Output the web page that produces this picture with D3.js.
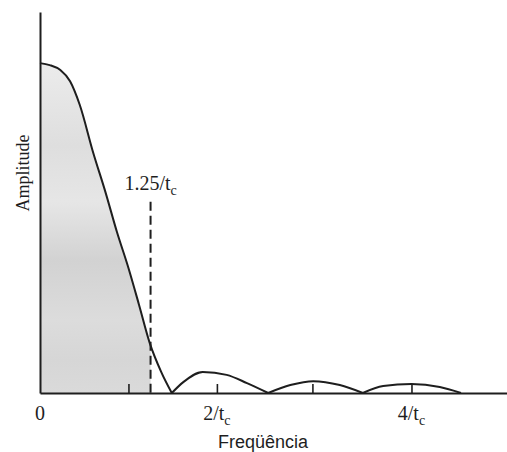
<!DOCTYPE html>
<html>
<head>
<meta charset="utf-8">
<script src="https://cdn.jsdelivr.net/npm/d3@7/dist/d3.min.js"></script>
<style>
	body { margin: 0; background: #fff; }
	.axis path, .axis line { stroke: #1e1e1e; }
	.curve { fill: none; stroke: #1e1e1e; stroke-width: 2; }
	.serif { font-family: "Liberation Serif", "DejaVu Serif", serif; fill: #1e1e1e; }
	.sans { font-family: "Liberation Sans", Arial, sans-serif; fill: #1e1e1e; }
</style>
</head>
<body>
<svg class="chart"></svg>
<script>
// Amplitude spectrum (frequency in units of 1/tc, amplitude relative to peak)
var freq = [0, 0.11, 0.23, 0.34, 0.45, 0.60, 0.74, 0.87, 1.00, 1.12, 1.24, 1.37, 1.49,
	1.62, 1.84, 2.11, 2.34, 2.58,
	2.83, 3.09, 3.39, 3.65,
	3.88, 4.20, 4.52, 4.76];
var amp = [1.0, 0.994, 0.979, 0.945, 0.873, 0.730, 0.609, 0.488, 0.379, 0.267, 0.152, 0.064, 0,
	0.033, 0.064, 0.055, 0.030, 0,
	0.024, 0.036, 0.024, 0,
	0.021, 0.027, 0.018, 0];

// Tick marks along the frequency axis and their labels
var tickFreq = [1, 2, 3.08, 4.2];
var labelFreq = [0, 2, 4.2];
var labelText = ["0", "2/t", "4/t"];
var labelSub = ["", "c", "c"];

// Cut-off marker
var cutoff = 1.25;
var cutoffTop = 0.58;
var cutoffText = "1.25/t";
var cutoffSub = "c";

var xTitle = "Freqüência";
var yTitle = "Amplitude";

function drawChart(areaID) {

	var width = 507,
		height = 452;

	var x = d3.scaleLinear()
		.domain([0, 5.28])
		.range([40, 507]);

	var y = d3.scaleLinear()
		.domain([0, 1.155])
		.range([393, 12]);

	var data = freq.map(function(f, i) { return {f: f, a: amp[i]}; });

	// Split into lobes at the zeros, so the cusps stay sharp
	var lobes = [];
	var current = [];
	data.forEach(function(d, i) {
		current.push(d);
		if (d.a === 0 && i > 0) {
			lobes.push(current);
			current = [d];
		}
	});

	var line = d3.line()
		.x(function(d) { return x(d.f); })
		.y(function(d) { return y(d.a); })
		.curve(d3.curveMonotoneX);

	var area = d3.area()
		.x(function(d) { return x(d.f); })
		.y0(y(0))
		.y1(function(d) { return y(d.a); })
		.curve(d3.curveMonotoneX);

	var chart = d3.select("." + areaID)
		.attr("width", width)
		.attr("height", height);

	var defs = chart.append("defs");

	// Grey shading, blotchy like the print
	var grad = defs.append("linearGradient")
		.attr("id", "shade")
		.attr("x1", 0).attr("y1", 0).attr("x2", 0).attr("y2", 1);
	[[0, "#ececec"], [0.25, "#dedede"], [0.42, "#e6e6e6"], [0.6, "#d2d2d2"],
	 [0.78, "#dcdcdc"], [0.9, "#d6d6d6"], [1, "#dadada"]].forEach(function(s) {
		grad.append("stop").attr("offset", s[0]).attr("stop-color", s[1]);
	});

	defs.append("clipPath")
		.attr("id", "cut")
	  .append("rect")
		.attr("x", x(0))
		.attr("y", y(1.155))
		.attr("width", x(cutoff) - x(0))
		.attr("height", y(0) - y(1.155));

	// Shaded area up to the cut-off
	chart.append("path")
		.datum(lobes[0])
		.attr("d", area)
		.attr("fill", "url(#shade)")
		.attr("clip-path", "url(#cut)");

	// Spectrum curve
	chart.selectAll(".curve")
		.data(lobes)
	  .enter().append("path")
		.attr("class", "curve")
		.attr("d", line);

	// Dashed cut-off line
	chart.append("line")
		.attr("x1", x(cutoff)).attr("x2", x(cutoff))
		.attr("y1", y(cutoffTop)).attr("y2", y(0))
		.attr("stroke", "#1e1e1e")
		.attr("stroke-width", 2)
		.attr("stroke-dasharray", "9,5");

	var cut = chart.append("text")
		.attr("class", "serif")
		.attr("x", x(cutoff))
		.attr("y", 190)
		.attr("text-anchor", "middle")
		.style("font-size", "20px");
	cut.append("tspan").text(cutoffText);
	cut.append("tspan").attr("dy", 5).style("font-size", "14px").text(cutoffSub);

	// Axes
	chart.append("g")
		.attr("class", "x axis")
		.attr("transform", "translate(0," + y(0) + ")")
		.call(d3.axisBottom(x).tickValues(tickFreq).tickSizeInner(-9).tickSizeOuter(0).tickFormat(""))
		.call(function(g) {
			g.select(".domain").attr("stroke-width", 2);
			g.selectAll(".tick line").attr("stroke-width", 1.6);
		});

	chart.append("g")
		.attr("class", "y axis")
		.attr("transform", "translate(" + x(0) + ",0)")
		.call(d3.axisLeft(y).tickValues([]).tickSizeOuter(0))
		.call(function(g) { g.select(".domain").attr("stroke-width", 2); });

	// Frequency labels
	var labels = chart.selectAll(".flabel")
		.data(labelFreq)
	  .enter().append("text")
		.attr("class", "flabel serif")
		.attr("x", function(d) { return x(d); })
		.attr("y", 420)
		.attr("text-anchor", "middle")
		.style("font-size", "20px");
	labels.append("tspan").text(function(d, i) { return labelText[i]; });
	labels.append("tspan")
		.attr("dy", 5)
		.style("font-size", "14px")
		.text(function(d, i) { return labelSub[i]; });

	// Axis titles
	chart.append("text")
		.attr("class", "sans")
		.attr("x", 263)
		.attr("y", 448)
		.attr("text-anchor", "middle")
		.style("font-size", "18px")
		.text(xTitle);

	chart.append("text")
		.attr("class", "serif")
		.attr("transform", "translate(29,173) rotate(-90)")
		.attr("text-anchor", "middle")
		.style("font-size", "18px")
		.text(yTitle);
}

drawChart("chart");
</script>
</body>
</html>
